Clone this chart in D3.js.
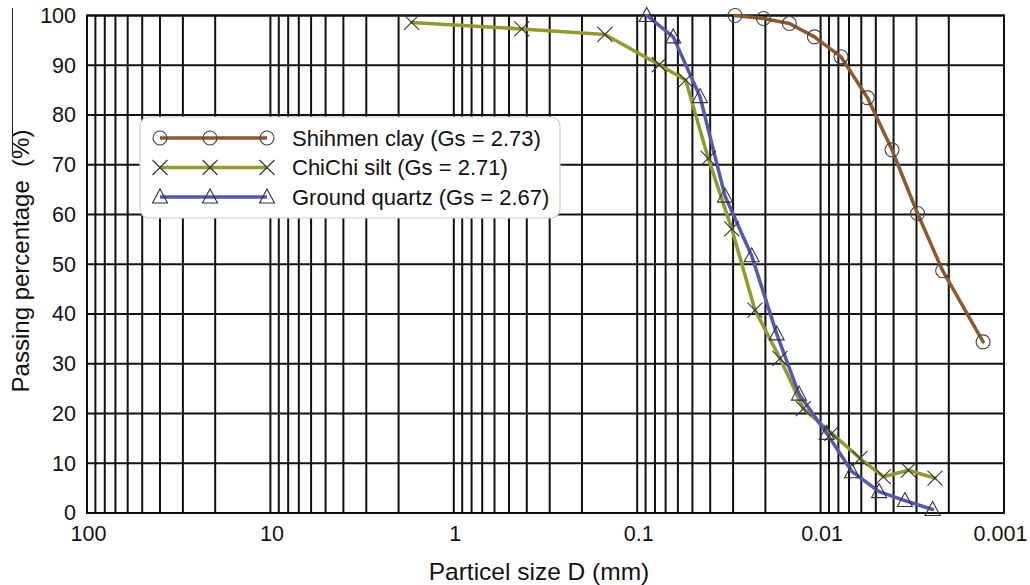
<!DOCTYPE html>
<html>
<head>
<meta charset="utf-8">
<script src="https://cdn.jsdelivr.net/npm/d3@7"></script>
<style>
  html, body { margin: 0; padding: 0; background: #fff; }
  svg { display: block; font-family: "Liberation Sans", Arial, sans-serif; }
</style>
</head>
<body>
<svg id="chart" width="1030" height="585"></svg>
<script>
// ---- Data ----
const seriesNames = ["Shihmen clay (Gs = 2.73)", "ChiChi silt (Gs = 2.71)", "Ground quartz (Gs = 2.67)"];

const shihmenSize = [0.0293, 0.0205, 0.0148, 0.0108, 0.00774, 0.00556, 0.00408, 0.00296, 0.00216, 0.0013];
const shihmenPass = [100, 99.4, 98.4, 95.7, 91.7, 83.5, 73.0, 60.2, 48.7, 34.4];

const chichiSize = [1.70, 0.426, 0.150, 0.0758, 0.0544, 0.0410, 0.0305, 0.0228, 0.01665, 0.01242, 0.0087, 0.0061, 0.00455, 0.00332, 0.00238];
const chichiPass = [98.6, 97.3, 96.2, 90.1, 87.0, 71.3, 57.1, 40.8, 31.1, 21.0, 16.0, 11.0, 7.3, 8.6, 7.0];

const quartzSize = [0.0887, 0.0636, 0.04545, 0.0332, 0.02375, 0.01735, 0.01312, 0.00926, 0.00674, 0.0048, 0.00347, 0.00245];
const quartzPass = [100, 95.7, 83.7, 63.7, 51.7, 36.0, 23.9, 16.0, 8.3, 4.3, 2.5, 0.7];

const xTickValues = [100, 10, 1, 0.1, 0.01, 0.001];
const xTickLabels = ["100", "10", "1", "0.1", "0.01", "0.001"];
const yTickValues = [0, 10, 20, 30, 40, 50, 60, 70, 80, 90, 100];

const xTitle = "Particel size D (mm)";
const yTitle = "Passing percentage  (%)";

// ---- Layout ----
const svg = d3.select("#chart");
const L = 87, R = 1004, T = 15.5, B = 513;

const x = d3.scaleLog().domain([100, 0.001]).range([L, R]);
const y = d3.scaleLinear().domain([0, 100]).range([B, T]);

const colors = ["#8c5a2c", "#939a2c", "#5656b4"];
const markers = ["circle", "cross", "triangle"];

// minor grid values for log axis
const gridX = [];
for (let n = 1; n >= -3; n--) {
  for (let k = 1; k <= 9; k++) gridX.push(k * Math.pow(10, n));
}
gridX.push(100);

const grid = svg.append("g");
grid.selectAll("line.v").data(gridX).enter().append("line")
  .attr("x1", d => x(d)).attr("x2", d => x(d))
  .attr("y1", T).attr("y2", B)
  .attr("stroke", "#111").attr("stroke-width", 2);
grid.selectAll("line.h").data(yTickValues).enter().append("line")
  .attr("x1", L).attr("x2", R)
  .attr("y1", d => y(d)).attr("y2", d => y(d))
  .attr("stroke", "#111").attr("stroke-width", 2);
grid.append("rect").attr("x", L).attr("y", T).attr("width", R - L).attr("height", B - T)
  .attr("fill", "none").attr("stroke", "#111").attr("stroke-width", 2);

// axes (labels only)
const xAxis = d3.axisBottom(x).tickValues(xTickValues)
  .tickFormat((d, i) => xTickLabels[i]).tickSize(0).tickPadding(0);
const gx = svg.append("g").attr("transform", `translate(0,${B + 13})`).call(xAxis);
gx.select(".domain").remove();
gx.selectAll("text").attr("font-size", 21.5).attr("fill", "#111")
  .attr("font-family", '"Liberation Sans", Arial, sans-serif').attr("dy", "0.71em")
  .attr("dx", (d, i) => i === xTickValues.length - 1 ? -4 : 1);

const yAxis = d3.axisLeft(y).tickValues(yTickValues).tickFormat(d3.format("d")).tickSize(0).tickPadding(11);
const gy = svg.append("g").attr("transform", `translate(${L},0)`).call(yAxis);
gy.select(".domain").remove();
gy.selectAll("text").attr("font-size", 21.5).attr("fill", "#111")
  .attr("font-family", '"Liberation Sans", Arial, sans-serif');

// titles
svg.append("text").attr("x", 539).attr("y", 580).attr("text-anchor", "middle")
  .attr("font-size", 24.5).attr("fill", "#111").text(xTitle);
svg.append("text").attr("transform", "translate(29,261) rotate(-90)").attr("text-anchor", "middle")
  .attr("font-size", 24).attr("fill", "#111").attr("xml:space", "preserve").style("white-space", "pre").text(yTitle);
// stray vertical rule in the original figure
svg.append("line").attr("x1", 12.5).attr("x2", 12.5).attr("y1", 8).attr("y2", 155)
  .attr("stroke", "#222").attr("stroke-width", 1);

// marker drawing
function drawMarker(g, type, cx, cy) {
  if (type === "circle") {
    g.append("circle").attr("cx", cx).attr("cy", cy).attr("r", 7)
      .attr("fill", "none").attr("stroke", "#444").attr("stroke-width", 1.1);
  } else if (type === "cross") {
    const s = 7.5;
    g.append("path").attr("d", `M${cx - s},${cy - s}L${cx + s},${cy + s}M${cx - s},${cy + s}L${cx + s},${cy - s}`)
      .attr("fill", "none").attr("stroke", "#333").attr("stroke-width", 1.1);
  } else {
    const w = 7.5, h = 7;
    g.append("path").attr("d", `M${cx},${cy - h - 1}L${cx + w},${cy + h - 1}L${cx - w},${cy + h - 1}Z`)
      .attr("fill", "none").attr("stroke", "#333").attr("stroke-width", 1.1);
  }
}

const series = [
  { sizes: shihmenSize, pass: shihmenPass },
  { sizes: chichiSize, pass: chichiPass },
  { sizes: quartzSize, pass: quartzPass }
];

const line = d3.line().x(d => x(d[0])).y(d => y(d[1]));

series.forEach((s, i) => {
  const pts = s.sizes.map((v, j) => [v, s.pass[j]]);
  svg.append("path").datum(pts).attr("d", line)
    .attr("fill", "none").attr("stroke", colors[i]).attr("stroke-width", 3.5)
    .attr("stroke-linejoin", "round").attr("stroke-linecap", "round");
});
series.forEach((s, i) => {
  const g = svg.append("g");
  s.sizes.forEach((v, j) => drawMarker(g, markers[i], x(v), y(s.pass[j])));
});

// legend
const lg = svg.append("g");
lg.append("rect").attr("x", 140).attr("y", 117).attr("width", 420).attr("height", 101)
  .attr("rx", 9).attr("fill", "#fff").attr("stroke", "#ccc").attr("stroke-width", 1.2);
const rowY = [138, 167.5, 197];
seriesNames.forEach((name, i) => {
  const yy = rowY[i];
  lg.append("line").attr("x1", 160).attr("x2", 267).attr("y1", yy).attr("y2", yy)
    .attr("stroke", colors[i]).attr("stroke-width", 3.5);
  [160, 210, 267].forEach(mx => drawMarker(lg, markers[i], mx, yy));
  lg.append("text").attr("x", 292).attr("y", yy).attr("dy", "0.35em")
    .attr("font-size", 22).attr("fill", "#111").text(name);
});
</script>
</body>
</html>
